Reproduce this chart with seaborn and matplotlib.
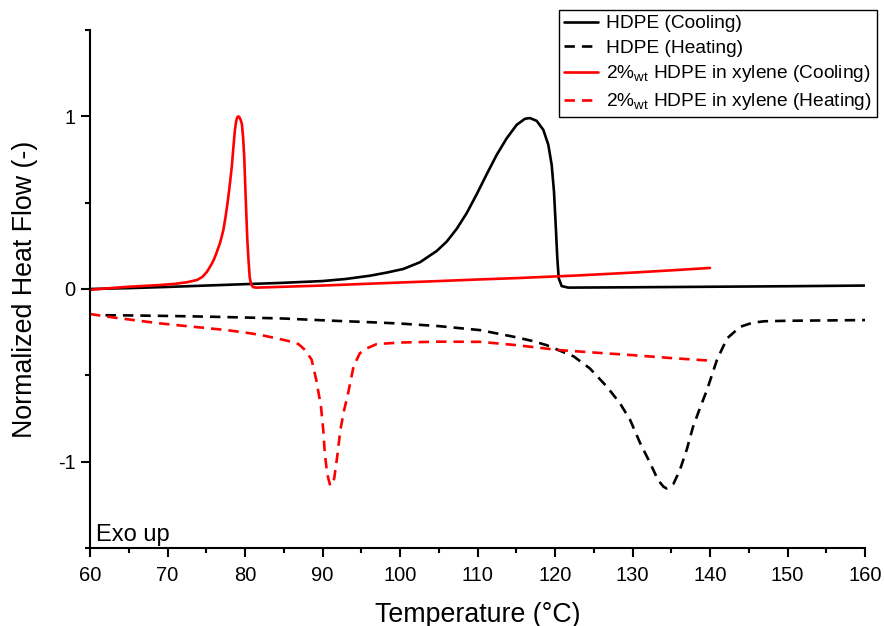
import matplotlib
matplotlib.use("Agg")
import matplotlib.pyplot as plt
import seaborn as sns
import pandas as pd

# DSC traces, normalized heat flow vs temperature
hdpe_cool_T = [60, 65, 70, 75, 80, 85, 90, 93, 96.13, 98.28, 100.43, 102.58, 104.73, 106.02,
               107.31, 108.6, 109.9, 111.19, 112.48, 113.77, 115.06, 116.13, 116.77, 117.63,
               118.49, 119.14, 119.57, 119.87, 120.09, 120.3, 120.48, 120.86, 121.7,
               130, 140, 150, 160]
hdpe_cool_v = [0.0, 0.005, 0.012, 0.02, 0.028, 0.036, 0.046, 0.058, 0.077, 0.095, 0.116,
               0.155, 0.22, 0.274, 0.348, 0.439, 0.549, 0.665, 0.777, 0.873, 0.951, 0.986,
               0.99, 0.974, 0.922, 0.835, 0.719, 0.564, 0.371, 0.178, 0.062, 0.017, 0.008,
               0.01, 0.013, 0.016, 0.02]

sol_cool_T = [60, 62, 65, 69, 71, 72.5, 73.8, 74.5, 75.1, 75.7, 76.0, 76.3, 76.8, 77.2, 77.5,
              77.8, 78.05, 78.3, 78.5, 78.7, 78.85, 79.0, 79.15, 79.3, 79.45, 79.6, 79.75,
              79.9, 80.0, 80.1, 80.2, 80.3, 80.45, 80.6, 80.75, 80.9, 81.1, 81.5, 85, 90,
              97.4, 105, 110, 115, 123.2, 130, 135, 140]
sol_cool_v = [-0.005, 0.003, 0.013, 0.023, 0.03, 0.039, 0.052, 0.07, 0.10, 0.145, 0.172,
              0.206, 0.27, 0.34, 0.42, 0.516, 0.61, 0.71, 0.82, 0.92, 0.97, 0.994, 1.0,
              0.993, 0.978, 0.955, 0.88, 0.767, 0.64, 0.516, 0.40, 0.284, 0.17, 0.071, 0.035,
              0.018, 0.01, 0.008, 0.013, 0.02, 0.033, 0.046, 0.055, 0.063, 0.079, 0.095,
              0.108, 0.122]

hdpe_heat_T = [62, 65, 70, 75, 80, 85, 88.4, 92, 96, 100, 105, 110.3, 114.6, 117, 118.9, 120.5,
               122.4, 124.5, 126.7, 128.4, 129.7, 131, 132.3, 133.3, 134.0, 134.4, 135.3, 136.1,
               137.0, 137.8, 138.7, 139.6, 140.9, 142.2, 143.9, 145.5, 147, 150, 155, 160]
hdpe_heat_v = [-0.152, -0.153, -0.156, -0.160, -0.165, -0.171, -0.178, -0.185, -0.192, -0.2,
               -0.215, -0.238, -0.276, -0.30, -0.325, -0.355, -0.39, -0.46, -0.566, -0.663,
               -0.759, -0.894, -1.01, -1.107, -1.145, -1.155, -1.127, -1.05, -0.93, -0.80,
               -0.69, -0.586, -0.41, -0.286, -0.219, -0.195, -0.187, -0.184, -0.182, -0.18]

sol_heat_T = [60, 63, 66, 69, 72, 75, 77.6, 80, 82, 84.1, 85.5, 86.9, 87.8, 88.6, 89.2, 89.8,
              90.1, 90.3, 90.6, 91.0, 91.5, 91.9, 92.3, 92.8, 93.3, 94.0, 94.8, 95.7, 97.0,
              100, 105, 110.3, 115, 120.6, 125, 130, 135, 140]
sol_heat_v = [-0.145, -0.165, -0.182, -0.199, -0.213, -0.226, -0.238, -0.252, -0.266, -0.286,
              -0.30, -0.319, -0.355, -0.41, -0.528, -0.68, -0.817, -0.953, -1.07, -1.14, -1.10,
              -0.97, -0.817, -0.70, -0.605, -0.45, -0.373, -0.344, -0.319, -0.31, -0.305,
              -0.306, -0.325, -0.354, -0.368, -0.383, -0.40, -0.415]

labels = ["HDPE (Cooling)", "HDPE (Heating)",
          r"2%$_{\mathrm{wt}}$ HDPE in xylene (Cooling)",
          r"2%$_{\mathrm{wt}}$ HDPE in xylene (Heating)"]

sns.set_style("ticks")
plt.rcParams["font.family"] = ["Liberation Sans", "DejaVu Sans"]
plt.rcParams["mathtext.fontset"] = "custom"
plt.rcParams["mathtext.rm"] = "Liberation Sans"
plt.rcParams["mathtext.it"] = "Liberation Sans:italic"
plt.rcParams["axes.unicode_minus"] = False
for key in ("text.color", "axes.labelcolor", "xtick.color", "ytick.color",
            "xtick.labelcolor", "ytick.labelcolor"):
    plt.rcParams[key] = "black"

fig = plt.figure(figsize=(8.84, 6.26), dpi=100)
ax = fig.add_axes([90 / 884, 1 - 548 / 626, 775 / 884, 518 / 626])

lw = 1.9
dash = (0, (3.95, 2.65))
series = [
    (hdpe_cool_T, hdpe_cool_v, "black", "-", labels[0]),
    (hdpe_heat_T, hdpe_heat_v, "black", dash, labels[1]),
    (sol_cool_T, sol_cool_v, "#ff0000", "-", labels[2]),
    (sol_heat_T, sol_heat_v, "#ff0000", dash, labels[3]),
]
for T, v, c, ls, lab in series:
    df = pd.DataFrame({"T": T, "v": v})
    sns.lineplot(data=df, x="T", y="v", ax=ax, color=c, linestyle=ls, linewidth=lw,
                 sort=False, estimator=None, label=lab)

ax.set_xlim(60, 160)
ax.set_ylim(-1.5, 1.5)
ax.set_xticks(range(60, 161, 10))
ax.set_xticks(range(65, 160, 10), minor=True)
ax.set_yticks([-1, 0, 1])
ax.set_yticklabels(["-1", "0", "1"])
ax.set_yticks([-1.5, -0.5, 0.5, 1.5], minor=True)
ax.tick_params(which="major", direction="out", length=6.5, width=1.5, labelsize=14.5,
               color="black", labelcolor="black")
ax.tick_params(axis="x", which="major", pad=6.5)
ax.tick_params(axis="y", which="major", pad=4)
ax.tick_params(which="minor", direction="out", length=3.5, width=1.5, color="black")
sns.despine(ax=ax)
for s in ("left", "bottom"):
    ax.spines[s].set_linewidth(1.5)
    ax.spines[s].set_color("black")

ax.set_xlabel("Temperature (°C)", fontsize=19.3, labelpad=12, color="black")
ax.set_ylabel("Normalized Heat Flow (-)", fontsize=19.3, labelpad=14, color="black")

ax.text(6 / 775, 7.3 / 518, "Exo up", transform=ax.transAxes, fontsize=17,
        ha="left", va="baseline", color="black")

leg = ax.legend(loc="upper right", bbox_to_anchor=(877 / 884, 1 - 10 / 626),
                bbox_transform=fig.transFigure, borderaxespad=0, frameon=True,
                fancybox=False, edgecolor="black", fontsize=13.8, handlelength=1.75,
                handletextpad=0.45, borderpad=0.25, labelspacing=0.36)
leg.get_frame().set_linewidth(1.0)
leg.get_frame().set_alpha(1)
for t in leg.get_texts():
    t.set_color("black")

fig.savefig("out.png", dpi=100)
